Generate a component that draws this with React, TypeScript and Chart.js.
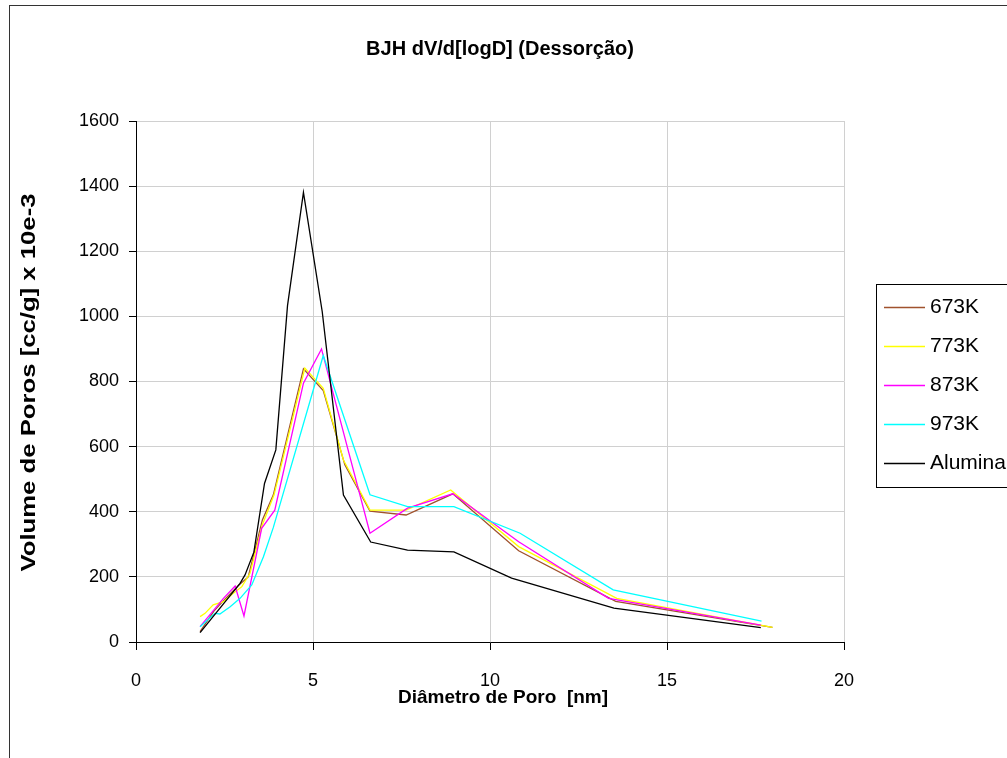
import React, { useEffect, useRef } from "react";
import { Chart, registerables } from "chart.js";

Chart.register(...registerables);

const chartTitle = "BJH dV/d[logD] (Dessorção)";
const xTitle = "Diâmetro de Poro  [nm]";
const yTitle = "Volume de Poros [cc/g] x 10e-3";

const seriesNames = ["673K", "773K", "873K", "973K", "Alumina"];
const seriesColors = ["#a0522d", "#ffff00", "#ff00ff", "#00ffff", "#000000"];

const diam673 = [1.81, 2.2, 2.5, 2.9, 3.17, 3.57, 3.88, 4.73, 5.29, 5.9, 6.61, 7.63, 8.95, 10.81, 13.55, 17.98];
const vol673 = [32, 95, 130, 174, 200, 375, 452, 839, 772, 544, 402, 390, 455, 280, 125, 45];

const diam773 = [1.81, 1.95, 2.18, 2.47, 2.75, 2.99, 3.22, 3.57, 3.9, 4.77, 5.29, 5.86, 6.61, 7.63, 8.89, 10.81, 13.58, 17.98];
const vol773 = [78, 88, 114, 124, 150, 170, 211, 360, 452, 841, 779, 559, 405, 405, 467, 293, 134, 45];

const diam873 = [1.81, 2.47, 2.8, 3.05, 3.55, 3.92, 4.73, 5.24, 6.61, 7.67, 8.95, 10.81, 13.35, 17.65];
const vol873 = [47, 134, 172, 80, 349, 405, 795, 900, 334, 411, 455, 308, 134, 52];

const diam973 = [1.81, 2.23, 2.37, 2.66, 2.94, 3.27, 3.6, 3.88, 5.29, 6.61, 7.67, 8.98, 10.85, 13.48, 17.67];
const vol973 = [47, 88, 86, 108, 134, 175, 262, 352, 880, 452, 416, 416, 334, 160, 64];

const diamAlumina = [1.81, 2.94, 3.08, 3.33, 3.63, 3.95, 4.28, 4.73, 5.26, 5.86, 6.63, 7.67, 8.98, 10.61, 13.5, 17.65];
const volAlumina = [29, 180, 206, 276, 487, 590, 1033, 1381, 1015, 451, 307, 282, 277, 196, 104, 44];

const xTicks = [0, 5, 10, 15, 20];
const yTicks = [0, 200, 400, 600, 800, 1000, 1200, 1400, 1600];

const allDiams = [diam673, diam773, diam873, diam973, diamAlumina];
const allVols = [vol673, vol773, vol873, vol973, volAlumina];

const FONT = "'Liberation Sans', Arial, sans-serif";

const W = 1007;
const H = 758;

const decorations = {
  id: "decorations",
  afterDraw(chart: any) {
    const ctx = chart.ctx as CanvasRenderingContext2D;
    const area = chart.chartArea;
    ctx.save();
    // outer border
    ctx.strokeStyle = "#333333";
    ctx.lineWidth = 1;
    ctx.strokeRect(9.5, 5.5, 1200, 1000);

    ctx.fillStyle = "#000";
    // chart title
    ctx.font = `bold 20px ${FONT}`;
    ctx.textAlign = "center";
    ctx.textBaseline = "middle";
    ctx.fillText(chartTitle, 500, 49);

    // x title
    ctx.font = `bold 19px ${FONT}`;
    ctx.fillText(xTitle, 503, 698);

    // y title (stretched along its length like the original)
    ctx.save();
    ctx.font = `bold 20px ${FONT}`;
    const natural = ctx.measureText(yTitle).width;
    const stretch = 378 / natural;
    ctx.translate(29, (area.top + area.bottom) / 2 + 1);
    ctx.rotate(-Math.PI / 2);
    ctx.scale(stretch, 1);
    ctx.fillText(yTitle, 0, 0);
    ctx.restore();

    // legend
    const lx = 876.5, ly = 284.5, lw = 200, lh = 203;
    ctx.fillStyle = "#fff";
    ctx.fillRect(lx, ly, lw, lh);
    ctx.strokeStyle = "#000";
    ctx.lineWidth = 1;
    ctx.strokeRect(lx, ly, lw, lh);
    ctx.font = `21px ${FONT}`;
    ctx.textAlign = "left";
    ctx.textBaseline = "middle";
    chart.data.datasets.forEach((ds: any, i: number) => {
      const y = 307 + i * 39;
      ctx.strokeStyle = ds.borderColor;
      ctx.lineWidth = 1.5;
      ctx.beginPath();
      ctx.moveTo(884, y + 0.5);
      ctx.lineTo(925, y + 0.5);
      ctx.stroke();
      ctx.fillStyle = "#000";
      ctx.fillText(ds.label, 930, y);
    });
    ctx.restore();
  },
};

export default function App() {
  const ref = useRef<HTMLCanvasElement | null>(null);

  useEffect(() => {
    if (!ref.current) return;
    const datasets = seriesNames.map((name, i) => ({
      label: name,
      data: allDiams[i].map((d, j) => ({ x: d, y: allVols[i][j] })),
      borderColor: seriesColors[i],
      backgroundColor: seriesColors[i],
      borderWidth: 1.3,
      pointRadius: 0,
      tension: 0,
      fill: false,
      order: seriesNames.length - i,
    }));

    const chart = new Chart(ref.current, {
      type: "line",
      data: { datasets },
      options: {
        animation: false,
        responsive: false,
        devicePixelRatio: 1,
        layout: { padding: { left: 10, top: 121, right: 163, bottom: 0 } },
        plugins: {
          legend: { display: false },
          title: { display: false },
          tooltip: { enabled: false },
        },
        scales: {
          x: {
            type: "linear",
            min: 0,
            max: 20,
            afterBuildTicks: (scale: any) => {
              scale.ticks = xTicks.map((v) => ({ value: v }));
            },
            afterFit: (scale: any) => {
              scale.height = H - 642;
            },
            ticks: {
              color: "#000",
              font: { family: FONT, size: 18 },
              padding: 20,
              maxRotation: 0,
              autoSkip: false,
              callback: (v: any) => String(v),
            },
            grid: { color: "#d0d0d0", tickColor: "#000", tickLength: 8, lineWidth: 1 },
            border: { display: true, color: "#000", width: 1 },
          },
          y: {
            type: "linear",
            min: 0,
            max: 1600,
            afterBuildTicks: (scale: any) => {
              scale.ticks = yTicks.map((v) => ({ value: v }));
            },
            afterFit: (scale: any) => {
              scale.width = 136 - 10;
            },
            ticks: {
              color: "#000",
              font: { family: FONT, size: 18 },
              padding: 10,
              autoSkip: false,
              callback: (v: any) => String(v),
            },
            grid: { color: "#d0d0d0", tickColor: "#000", tickLength: 7, lineWidth: 1 },
            border: { display: true, color: "#000", width: 1 },
          },
        },
      },
      plugins: [decorations],
    });
    return () => chart.destroy();
  }, []);

  return (
    <div style={{ position: "absolute", left: 0, top: 0, width: W, height: H, background: "#fff" }}>
      <canvas ref={ref} width={W} height={H} style={{ display: "block", width: W, height: H }} />
    </div>
  );
}
